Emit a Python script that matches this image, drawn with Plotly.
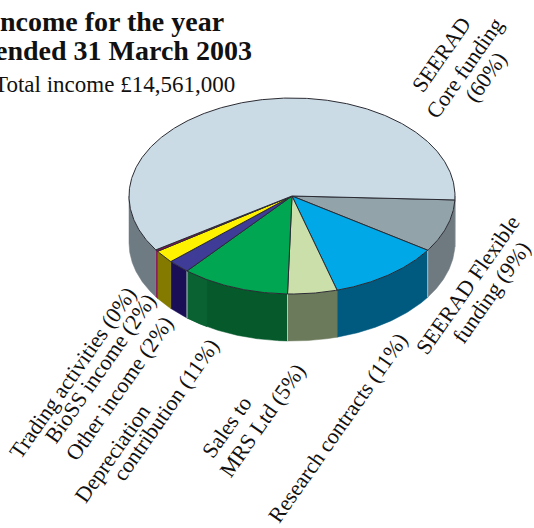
import numpy as np
import plotly.graph_objects as go

# Data, clockwise from the right-hand edge of the pie
categories = ["SEERAD Flexible funding", "Research contracts", "Sales to MRS Ltd",
              "Depreciation contribution", "Other income", "BioSS income",
              "Trading activities", "SEERAD Core funding"]
shares = [8.7, 11.2, 4.9, 10.7, 2.2, 2.1, 0.3, 59.9]
top_colors = ["#93a3aa", "#00a8e8", "#cbdfab", "#00a651", "#3f3c97", "#fff200", "#8e0f5a", "#cadbe6"]
wall_colors = ["#6f7a80", "#005a80", "#6c7a5c", "#05592b", "#1a0f57", "#857a00", "#8e0f5a", "#6e7b82"]

title_lines = ["Income for the year", "ended 31 March 2003"]
subtitle = "Total income £14,561,000"
label_lines = [
    ("SEERAD", 441, 54), ("Core funding", 464, 68), ("(60%)", 485, 77),
    ("SEERAD Flexible", 467, 285), ("funding (9%)", 491, 292),
    ("Research contracts (11%)", 337, 428),
    ("Sales to", 226, 427), ("MRS Ltd (5%)", 262, 420),
    ("Depreciation", 112, 453), ("contribution (11%)", 165, 410),
    ("Other income (2%)", 119, 388), ("BioSS income (2%)", 100, 368),
    ("Trading activities (0%)", 72, 373),
]

# Pie geometry on a pixel-like data scale
CX, CY, RX, RY, DEPTH = 292, 196, 163, 98, 47
START_DEG = 2.3
FONT = "Liberation Serif"
OUTLINE = "#2b2b33"
SEAM_INDEXES = [1, 3, 4]          # wall seams that show as pale lines
DEPR_PANEL_END_DEG = 121.4        # the depreciation wall has a slightly lighter panel
DEPR_PANEL_COLOR = "#0a6232"

fractions = np.array(shares) / sum(shares)
edges = START_DEG + 360 * np.concatenate([[0], np.cumsum(fractions)])


def rim(a0, a1, n=90):
    t = np.radians(np.linspace(a0, a1, n))
    return CX + RX * np.cos(t), CY + RY * np.sin(t)


def add_wall(fig, a0, a1, col, name):
    x, y = rim(a0, a1)
    xs = np.concatenate([x, x[::-1], x[:1]])
    ys = np.concatenate([y, y[::-1] + DEPTH, y[:1]])
    fig.add_trace(go.Scatter(x=xs, y=ys, mode="lines", fill="toself", fillcolor=col,
                             line=dict(color=col, width=0.5), hoverinfo="skip", name=name))


fig = go.Figure()

# Side walls: only the front half (0..180 degrees) of the rim can be seen
for i, col in enumerate(wall_colors):
    for shift in (0, -360):
        a0, a1 = max(edges[i] + shift, 0), min(edges[i + 1] + shift, 180)
        if a1 > a0:
            add_wall(fig, a0, a1, col, categories[i])
add_wall(fig, DEPR_PANEL_END_DEG, edges[4], DEPR_PANEL_COLOR, categories[3])

# Pale seams between wall panels
for k in SEAM_INDEXES:
    x, y = rim(edges[k], edges[k], 1)
    fig.add_trace(go.Scatter(x=[x[0], x[0]], y=[y[0], y[0] + DEPTH], mode="lines",
                             line=dict(color="#b9c2c4", width=1), hoverinfo="skip"))

# Top face slices
for i, col in enumerate(top_colors):
    x, y = rim(edges[i], edges[i + 1], max(3, int((edges[i + 1] - edges[i]) * 2)))
    xs = np.concatenate([[CX], x, [CX]])
    ys = np.concatenate([[CY], y, [CY]])
    fig.add_trace(go.Scatter(x=xs, y=ys, mode="lines", fill="toself", fillcolor=col,
                             line=dict(color=OUTLINE, width=1), hoverinfo="skip",
                             name=categories[i]))

ann = []
for text, x, y in label_lines:
    ann.append(dict(x=x, y=y, text=text, textangle=-55, showarrow=False, xanchor="center",
                    yanchor="middle", font=dict(family=FONT, size=22, color="#111111")))
for text, x, y in [(title_lines[0], 226, 21), (title_lines[1], 254, 50)]:
    ann.append(dict(x=x, y=y, text="<b>" + text + "</b>", showarrow=False, xanchor="right",
                    yanchor="middle", font=dict(family=FONT, size=28, color="#111111")))
ann.append(dict(x=237, y=84, text=subtitle, showarrow=False, xanchor="right", yanchor="middle",
                font=dict(family=FONT, size=23, color="#111111")))

fig.update_layout(
    width=534, height=528, margin=dict(l=0, r=0, t=0, b=0), showlegend=False,
    paper_bgcolor="white", plot_bgcolor="white", annotations=ann,
    xaxis=dict(range=[0, 534], visible=False, fixedrange=True),
    yaxis=dict(range=[528, 0], visible=False, fixedrange=True),
)
fig.write_html("out.html", config=dict(displayModeBar=False),
               post_script="document.body.style.margin='0';document.body.style.overflow='hidden';")
